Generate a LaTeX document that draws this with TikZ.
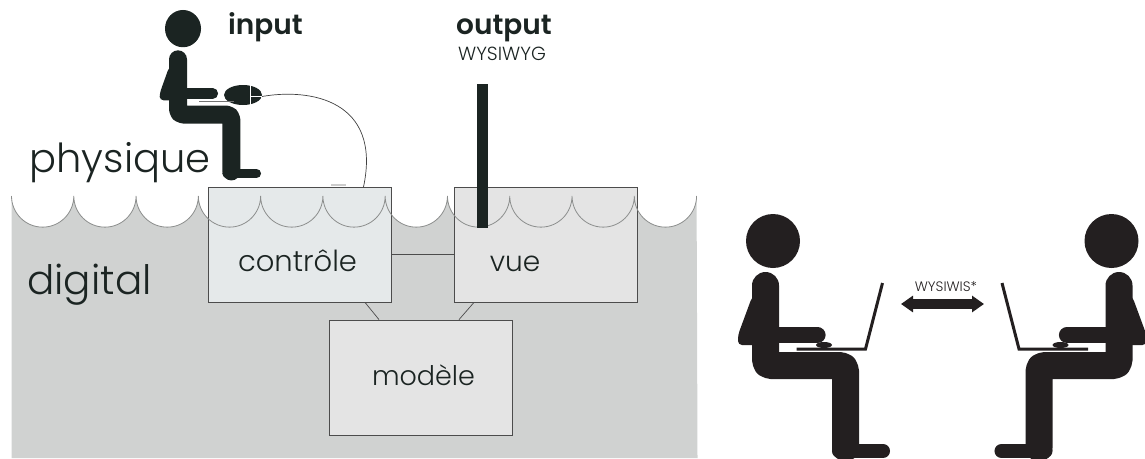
\documentclass[tikz,border=0pt]{standalone}
\usepackage{fontspec}
\setmainfont{Poppins}[UprightFont=* Light,BoldFont=* SemiBold]
\usetikzlibrary{arrows.meta}

\definecolor{inkone}{HTML}{1B2422}
\definecolor{inktwo}{HTML}{231F20}
\definecolor{water}{HTML}{D0D2D1}
\definecolor{wave}{HTML}{8C8E8D}
\definecolor{ctrlfill}{HTML}{E5E9EA}
\definecolor{boxfill}{HTML}{E4E4E4}

\newcommand{\fsz}[1]{\fontsize{#1}{#1}\selectfont}

\tikzset{
  box/.style={draw=black!70, line width=0.8pt, inner sep=0pt, minimum width=183pt, minimum height=115pt, fill=#1},
  word/.style={inner sep=0pt, anchor=base, text=inkone},
  link/.style={draw=black!70, line width=0.7pt},
  sitter/.pic={
    \fill (7.5,-31) circle[radius=27];
    \draw[line width=\bw, line cap=round, line join=round, rounded corners=5] (0,13.5) -- (0,93.5) -- (80,93.5) -- (80,176);
    \draw[line width=0.52*\bw, line cap=round] (73.5,179) -- (117.5,179);
    \fill[rounded corners=4] (-6,20) -- (-13.5,25) -- (-27.5,63) -- (-27.5,73) -- (-6,73) -- cycle;
    \draw[line width=0.6*\bw, line cap=round] (0,63) -- (52,63);
  },
  laptop/.pic={
    \draw[line width=3pt] (31,77) -- (100,77) -- (117,11);
    \fill (58.5,73) ellipse[x radius=8, y radius=3];
  },
}

\begin{document}
\begin{tikzpicture}[x=1pt, y=-1pt]
\useasboundingbox (0,0) rectangle (1145,458);

% water
\fill[water] (11.5,196) \foreach \i in {1,...,11} {arc[start angle=180, end angle=0, radius=31.14]} -- (697.5,458) -- (11.5,458) -- cycle;

% boxes
\node[box=ctrlfill] (ctrl) at (299.5,244.5) {};
\node[box=boxfill]  (view) at (546,244.5) {};
\node[box=boxfill]  (model) at (420.5,377.5) {};
\draw[link] ([yshift=-9.5pt]ctrl.east) -- ([yshift=-9.5pt]view.west);
\draw[link] ([xshift=65.5pt]ctrl.south) -- ([xshift=-41.5pt]model.north);
\draw[link] ([xshift=-72pt]view.south) -- ([xshift=38.5pt]model.north);

% wave line
\draw[wave, line width=0.8pt] (11.5,196) \foreach \i in {1,...,11} {arc[start angle=180, end angle=0, radius=31.14]};

% input
\def\bw{18pt}
\pic[color=inkone, xscale=0.667, yscale=0.69] at (178,50) {sitter};
\node[word] (input) at (265.5,34) {\fsz{28}\bfseries input};
\node[word] (physique) at (120,172) {\fsz{40}physique};
\fill[inkone] (243,95) ellipse[x radius=19, y radius=10];
\draw[white, line width=0.9pt] (250,85) -- (250,105) (250,96) -- (262,96);
\draw[black!55, line width=1.5pt] (199,101.5) -- (234,101.5);
\coordinate (mouse) at (262,96.5);
\draw[black!75, line width=0.7pt] (mouse) .. controls (310,88) and (382,100) .. (363.5,187);
\fill[black!20] (331,184) rectangle (346,185.5);

% output
\node[word] (output) at (504,34) {\fsz{28}\bfseries output};
\node[word] (wysiwyg) at (502,60.5) {\fsz{19}WYSIWYG};
\fill[inkone] (477,84) rectangle (488,228);

% labels
\node[word] (digital) at (89.5,294) {\fsz{40.5}digital};
\node[word] (ctrltext) at (297.5,271) {\fsz{29}contrôle};
\node[word] (viewtext) at (515,271) {\fsz{28}vue};
\node[word] (modeltext) at (423.5,385) {\fsz{27}modèle};

% collaboration
\def\bw{27pt}
\pic[color=inktwo] at (765.5,272) {sitter};
\pic[color=inktwo] at (765.5,272) {laptop};
\pic[color=inktwo, xscale=-1] at (1119,272) {sitter};
\pic[color=inktwo, xscale=-1] at (1119,272) {laptop};
\coordinate (lefttip) at (901,304);
\coordinate (righttip) at (984,304);
\draw[inktwo, line width=10pt, {Triangle[length=12pt, width=16pt]}-{Triangle[length=12pt, width=16pt]}] (lefttip) -- (righttip);
\node[word, text=inktwo] (wysiwis) at (946,291) {\fsz{13.7}WYSIWIS*};
\end{tikzpicture}
\end{document}
